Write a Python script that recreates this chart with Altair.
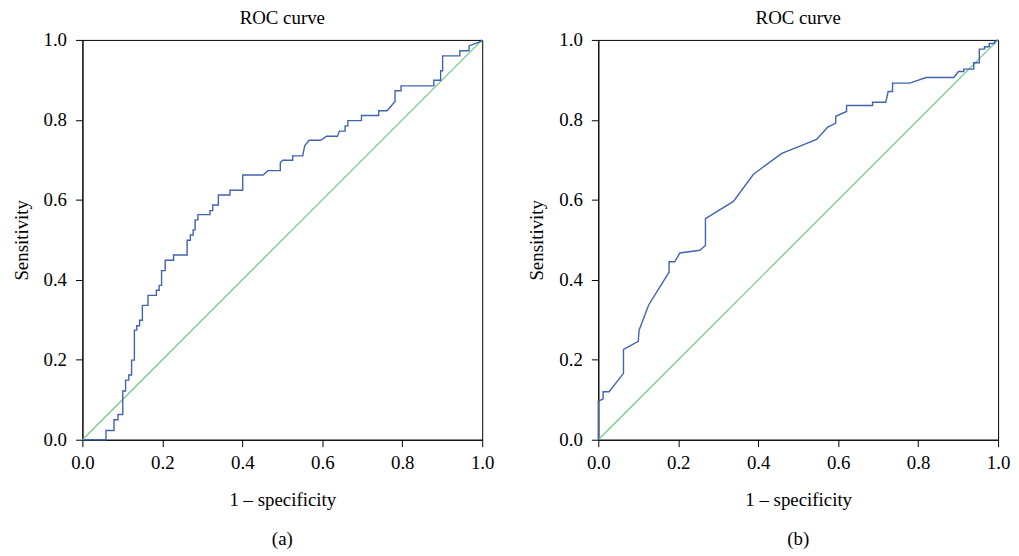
import altair as alt
import pandas as pd

# Panel (a) ROC curve points (1 - specificity, sensitivity)
a_fpr = [0.0, 0.059, 0.059, 0.079, 0.079, 0.089, 0.089, 0.101, 0.101, 0.108, 0.108, 0.116, 0.116,
         0.123, 0.123, 0.130, 0.130, 0.136, 0.136, 0.143, 0.143, 0.150, 0.150, 0.164, 0.164, 0.185,
         0.185, 0.192, 0.192, 0.198, 0.198, 0.207, 0.207, 0.228, 0.228, 0.262, 0.262, 0.270, 0.270,
         0.277, 0.277, 0.282, 0.282, 0.289, 0.289, 0.319, 0.319, 0.326, 0.326, 0.340, 0.340, 0.369,
         0.369, 0.401, 0.401, 0.452, 0.464, 0.495, 0.495, 0.501, 0.526, 0.526, 0.551, 0.556, 0.567,
         0.596, 0.611, 0.638, 0.643, 0.657, 0.657, 0.664, 0.664, 0.698, 0.698, 0.741, 0.741, 0.762,
         0.782, 0.782, 0.797, 0.797, 0.879, 0.879, 0.896, 0.896, 0.901, 0.901, 0.944, 0.944, 0.967,
         0.967, 0.998, 1.0]
a_tpr = [0.0, 0.0, 0.023, 0.023, 0.050, 0.050, 0.063, 0.063, 0.122, 0.122, 0.149, 0.149, 0.162,
         0.162, 0.199, 0.199, 0.274, 0.274, 0.285, 0.285, 0.299, 0.299, 0.336, 0.336, 0.361, 0.361,
         0.374, 0.374, 0.386, 0.386, 0.423, 0.423, 0.449, 0.449, 0.462, 0.462, 0.499, 0.499, 0.512,
         0.512, 0.525, 0.525, 0.550, 0.550, 0.563, 0.563, 0.573, 0.573, 0.587, 0.587, 0.612, 0.612,
         0.624, 0.624, 0.662, 0.662, 0.673, 0.673, 0.693, 0.699, 0.699, 0.710, 0.710, 0.735, 0.749,
         0.749, 0.759, 0.759, 0.772, 0.772, 0.785, 0.785, 0.798, 0.798, 0.811, 0.811, 0.823, 0.823,
         0.846, 0.873, 0.873, 0.885, 0.885, 0.899, 0.899, 0.923, 0.923, 0.960, 0.960, 0.973, 0.973,
         0.985, 0.997, 1.0]

# Panel (b) ROC curve points
b_fpr = [0.0, 0.0, 0.012, 0.012, 0.027, 0.063, 0.063, 0.100, 0.102, 0.126, 0.177, 0.177, 0.191,
         0.204, 0.254, 0.268, 0.268, 0.338, 0.388, 0.459, 0.509, 0.546, 0.574, 0.594, 0.594, 0.621,
         0.621, 0.686, 0.686, 0.719, 0.725, 0.736, 0.736, 0.779, 0.820, 0.889, 0.901, 0.914, 0.914,
         0.939, 0.939, 0.953, 0.953, 0.966, 0.966, 0.978, 0.978, 0.991, 0.991, 1.0]
b_tpr = [0.0, 0.096, 0.102, 0.120, 0.120, 0.166, 0.226, 0.246, 0.274, 0.337, 0.419, 0.445, 0.445,
         0.467, 0.474, 0.486, 0.553, 0.596, 0.664, 0.716, 0.736, 0.751, 0.782, 0.792, 0.809, 0.821,
         0.836, 0.836, 0.844, 0.844, 0.871, 0.871, 0.892, 0.892, 0.906, 0.906, 0.921, 0.921, 0.927,
         0.927, 0.943, 0.943, 0.977, 0.977, 0.983, 0.983, 0.991, 0.991, 0.996, 1.0]

ref_x = [0.0, 1.0]
ref_y = [0.0, 1.0]
tick_vals = [0.0, 0.2, 0.4, 0.6, 0.8, 1.0]
panel_labels = ["(a)", "(b)"]

FONT = "Liberation Serif"
FS = 19
BLUE = "#4163b0"
GREEN = "#6cc680"
W = 403
H = 403


def panel(fpr, tpr, label):
    curve = pd.DataFrame({"fpr": fpr, "tpr": tpr, "i": list(range(len(fpr)))})
    ref = pd.DataFrame({"fpr": ref_x, "tpr": ref_y, "i": [0, 1]})
    xs = alt.Scale(domain=[0, 1], nice=False)
    ys = alt.Scale(domain=[0, 1], nice=False)
    xax = alt.Axis(values=tick_vals, format=".1f", title="1 – specificity", grid=False,
                   tickSize=7, labelPadding=7, titlePadding=18, labelFlush=False)
    yax = alt.Axis(values=tick_vals, format=".1f", title="Sensitivity", grid=False,
                   tickSize=7, labelPadding=9, titlePadding=12, labelFlush=False)
    ref_line = alt.Chart(ref).mark_line(color=GREEN, strokeWidth=1.2).encode(
        x=alt.X("fpr:Q", scale=xs, axis=xax),
        y=alt.Y("tpr:Q", scale=ys, axis=yax),
        order="i:Q",
    )
    roc = alt.Chart(curve).mark_line(color=BLUE, strokeWidth=1.4).encode(
        x=alt.X("fpr:Q", scale=xs, axis=xax),
        y=alt.Y("tpr:Q", scale=ys, axis=yax),
        order="i:Q",
    )
    txt = alt.Chart(pd.DataFrame({"t": [label]})).mark_text(
        font=FONT, fontSize=FS, color="black", baseline="middle", align="center"
    ).encode(text="t:N", x=alt.value(W / 2), y=alt.value(H + 100))
    return alt.layer(ref_line, roc, txt).properties(
        width=W, height=H,
        title=alt.TitleParams("ROC curve", font=FONT, fontSize=FS, fontWeight="normal",
                              color="black", frame="group", anchor="middle", offset=3),
    )


chart = alt.hconcat(
    panel(a_fpr, a_tpr, panel_labels[0]),
    panel(b_fpr, b_tpr, panel_labels[1]),
    spacing=32,
).properties(
    padding={"left": 3, "top": -2, "right": 0, "bottom": 0}
).configure_view(
    stroke="black", strokeWidth=1
).configure_axis(
    domainColor="black", tickColor="black", labelColor="black", titleColor="black",
    labelFont=FONT, titleFont=FONT, labelFontSize=FS, titleFontSize=FS,
    titleFontWeight="normal", domainWidth=1, tickWidth=1,
)

chart.save("out.html", embed_options={"renderer": "svg", "actions": False})
